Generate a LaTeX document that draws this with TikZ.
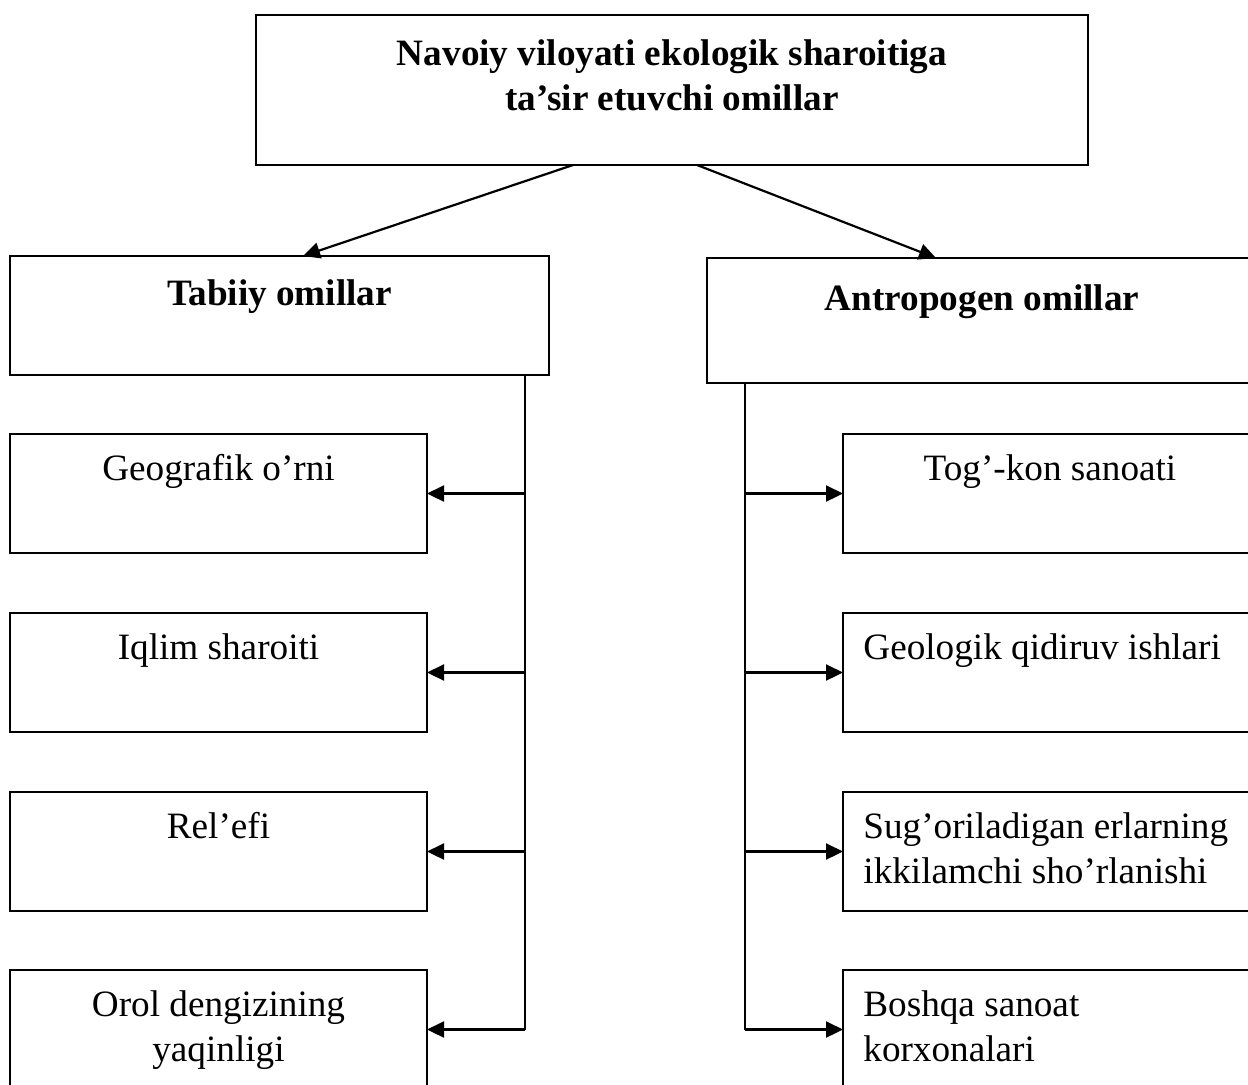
\documentclass[tikz,border=0pt]{standalone}
\usepackage{fontspec}
\setmainfont{Liberation Serif}
\usetikzlibrary{arrows.meta}
\begin{document}
\begin{tikzpicture}[x=0.5pt,y=-0.5pt,
  box/.style={draw, line width=1.1pt, anchor=north west, inner sep=0pt, outer sep=0pt},
  lbl/.style={anchor=base, inner sep=0pt, align=center, font=\fontsize{18.6}{22.5}\selectfont},
  llbl/.style={anchor=base west, inner sep=0pt, align=left, font=\fontsize{18.6}{22.5}\selectfont},
  blbl/.style={lbl, font=\fontsize{18.6}{22.5}\selectfont\bfseries},
  conn/.style={line width=1.1pt, -{Triangle[length=8.5pt,width=8pt]}},
  trunk/.style={line width=1.1pt}]
\useasboundingbox (0,0) rectangle (1248,1084);
\clip (0,0) rectangle (1248,1084);
% boxes
\node[box, minimum width=416pt, minimum height=75pt] (top) at (256,15) {};
\node[box, minimum width=269.5pt, minimum height=59.5pt] (tab) at (10,256) {};
\node[box, minimum width=275pt, minimum height=62.5pt] (ant) at (707,258) {};
\node[box, minimum width=208.5pt, minimum height=59.5pt] (geo) at (10,434) {};
\node[box, minimum width=208.5pt, minimum height=59.5pt] (iql) at (10,613) {};
\node[box, minimum width=208.5pt, minimum height=59.5pt] (rel) at (10,792) {};
\node[box, minimum width=208.5pt, minimum height=59.5pt] (oro) at (10,970) {};
\node[box, minimum width=207pt, minimum height=59.5pt] (tog) at (843,434) {};
\node[box, minimum width=207pt, minimum height=59.5pt] (gel) at (843,613) {};
\node[box, minimum width=207pt, minimum height=59.5pt] (sug) at (843,792) {};
\node[box, minimum width=207pt, minimum height=59.5pt] (bos) at (843,970) {};
% texts (two-line nodes: base = last line)
\node[blbl] (topT) at ([yshift=-47.5pt]top.north) {Navoiy viloyati ekologik sharoitiga\\ta’sir etuvchi omillar};
\node[blbl] (tabT) at ([yshift=-24.5pt]tab.north) {Tabiiy omillar};
\node[blbl] (antT) at ([yshift=-26pt]ant.north) {Antropogen omillar};
\node[lbl] (geoT) at ([yshift=-23pt]geo.north) {Geografik o’rni};
\node[lbl] (iqlT) at ([yshift=-23pt]iql.north) {Iqlim sharoiti};
\node[lbl] (relT) at ([yshift=-23pt]rel.north) {Rel’efi};
\node[lbl] (oroT) at ([yshift=-45.5pt]oro.north) {Orol dengizining\\yaqinligi};
\node[lbl] (togT) at ([yshift=-23pt]tog.north) {Tog’-kon sanoati};
\node[llbl] (gelT) at ([xshift=10pt,yshift=-23pt]gel.north west) {Geologik qidiruv ishlari};
\node[llbl] (sugT) at ([xshift=10pt,yshift=-45.5pt]sug.north west) {Sug’oriladigan erlarning\\ikkilamchi sho’rlanishi};
\node[llbl] (bosT) at ([xshift=10pt,yshift=-45.5pt]bos.north west) {Boshqa sanoat\\korxonalari};
% top arrows
\coordinate (topL) at (573,165);
\coordinate (topR) at (697,165);
\coordinate (tabIn) at (303,256);
\coordinate (antIn) at (936,258);
\draw[conn] (topL) -- (tabIn);
\draw[conn] (topR) -- (antIn);
% trunks
\coordinate (lt) at (525,375);
\coordinate (rt) at (745,383);
\draw[trunk] (lt) -- (lt |- oro.east);
\draw[trunk] (rt) -- (rt |- bos.west);
\foreach \b in {geo,iql,rel,oro} \draw[conn] (lt |- \b.east) -- (\b.east);
\foreach \b in {tog,gel,sug,bos} \draw[conn] (rt |- \b.west) -- (\b.west);
\end{tikzpicture}
\end{document}
